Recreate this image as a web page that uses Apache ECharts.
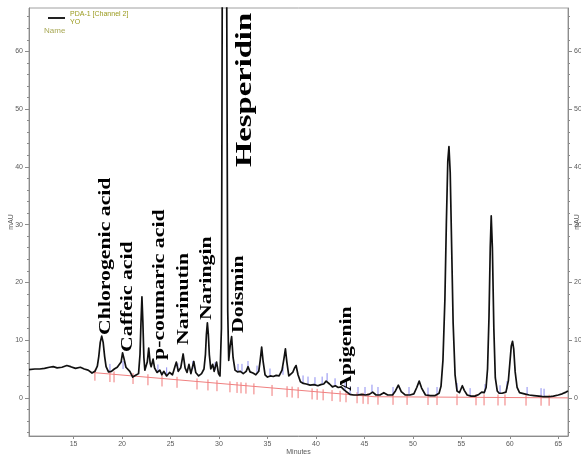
<!DOCTYPE html>
<html><head><meta charset="utf-8">
<script src="https://cdn.jsdelivr.net/npm/echarts@6/dist/echarts.min.js"></script>
<style>html,body{margin:0;padding:0;background:#fff}#c{width:581px;height:457px}</style>
</head><body><div id="c"></div>
<script>
const xTicks = [15,20,25,30,35,40,45,50,55,60,65];
const yTicks = [0,10,20,30,40,50,60];
const yMinorTicks = [-6,-4,-2,2,4,6,8,12,14,16,18,22,24,26,28,32,34,36,38,42,44,46,48,52,54,56,58,62,64,66];

const trace = [
[10.4,4.9],[11.0,5.0],[11.5,5.0],[12.0,5.1],[12.5,5.3],[12.9,5.4],[13.3,5.2],[13.8,5.3],[14.3,5.6],[14.7,5.4],[15.2,5.1],[15.7,5.3],[16.1,5.0],[16.5,4.8],[16.9,4.3],[17.2,4.6],
[17.45,5.5],[17.6,7.2],[17.75,9.6],[17.9,10.7],[18.05,9.6],[18.2,7.2],[18.35,5.4],[18.6,4.5],[18.9,4.6],[19.2,5.0],[19.5,5.3],[19.7,5.0],
[19.9,6.2],[20.05,7.8],[20.2,6.8],[20.4,5.3],[20.6,5.6],[20.8,4.6],[21.1,3.6],[21.4,3.9],
[21.7,4.2],[21.85,7.5],[21.95,13.0],[22.05,17.5],[22.15,13.0],[22.25,7.0],[22.35,4.8],[22.5,5.0],
[22.6,6.2],[22.75,8.6],[22.9,6.0],[23.0,5.4],[23.2,6.7],[23.35,5.2],[23.6,4.4],[23.9,4.8],[24.1,4.0],[24.3,4.6],[24.6,3.8],[24.9,4.4],[25.2,4.0],
[25.45,5.4],[25.6,6.2],[25.8,4.6],[26.05,5.2],[26.3,7.6],[26.5,5.2],[26.7,4.4],[26.9,5.8],[27.1,4.2],[27.4,6.3],[27.6,4.4],[27.9,3.8],[28.2,4.2],[28.45,5.0],
[28.6,7.5],[28.7,11.0],[28.8,13.0],[28.9,11.0],[29.0,7.5],[29.15,5.0],[29.35,5.8],[29.5,4.6],[29.75,6.2],[29.95,4.2],[30.1,3.8],
[30.25,12],[30.33,67],[30.42,200],[30.58,260],[30.72,200],[30.80,67],[30.9,15],[31.0,6.5],
[31.15,9.0],[31.3,10.6],[31.45,7.0],[31.65,4.8],[31.9,4.5],[32.2,4.6],[32.5,4.2],[32.8,4.6],[33.0,5.4],[33.2,4.5],[33.5,4.3],[33.8,4.0],[34.1,4.6],
[34.25,6.5],[34.4,8.8],[34.55,6.3],[34.75,4.0],[35.0,3.6],[35.3,3.8],[35.6,3.7],[35.9,3.9],[36.2,3.8],[36.5,4.8],
[36.7,6.8],[36.85,8.5],[37.0,6.2],[37.2,3.8],[37.4,3.7],[37.6,4.4],
[37.8,5.2],[37.95,5.6],[38.15,4.0],[38.4,2.8],[38.7,2.5],[39.0,2.4],[39.4,2.2],[39.8,2.3],[40.2,2.1],[40.5,2.3],[40.8,2.4],
[41.05,2.9],[41.2,3.2],[41.4,2.4],[41.7,1.9],[42.0,2.1],[42.3,1.8],[42.6,1.9],[42.9,1.4],[43.2,1.0],[43.5,0.6],[43.9,0.5],[44.3,0.5],[44.7,0.6],[45.1,0.5],[45.5,0.6],
[45.85,1.0],[46.2,0.5],[46.6,0.5],[47.0,0.9],[47.4,0.5],[47.9,0.5],[48.2,1.2],[48.5,2.2],[48.8,1.1],[49.2,0.5],[49.7,0.5],[50.1,0.7],[50.4,1.8],[50.65,2.9],[50.9,1.7],[51.3,0.5],[51.8,0.4],[52.3,0.4],[52.7,0.8],
[52.9,2.0],[53.1,6.5],[53.3,17],[53.45,30],[53.6,41],[53.72,43.5],[53.85,39],[54.0,26],[54.15,13],[54.35,4.0],[54.55,1.2],[54.8,0.9],
[54.95,1.5],[55.1,2.1],[55.3,1.3],[55.6,0.5],[56.0,0.3],[56.4,0.3],[56.8,0.6],[57.1,1.0],[57.35,0.9],[57.55,1.8],
[57.7,5.0],[57.85,14],[57.98,26],[58.08,31.5],[58.2,26],[58.35,12],[58.5,3.5],[58.7,1.2],[58.9,0.8],[59.2,0.8],[59.6,1.0],[59.85,3.0],
[60.0,6.0],[60.15,9.0],[60.28,9.8],[60.4,8.5],[60.55,4.5],[60.75,1.8],[61.0,0.9],[61.5,0.7],[62.0,0.5],[62.5,0.4],[63.0,0.3],[63.5,0.2],[64.0,0.2],[64.5,0.3],[65.0,0.5],[65.4,0.7],[65.8,1.0],[66.0,1.2]
];

const baseline = [[16.9,4.4],[46.0,0.2],[66.0,0.0]];

const redTicks = [
[17.2,4.36],[18.75,4.13],[19.17,4.07],[21.13,3.79],[22.67,3.57],[24.12,3.36],[25.67,3.13],[27.73,2.84],[28.86,2.67],[29.79,2.54],
[31.13,2.35],[31.86,2.24],[32.27,2.18],[32.78,2.11],[33.6,1.99],[35.47,1.72],[37.02,1.50],[37.54,1.43],[38.16,1.33],[39.6,1.12],
[40.12,1.05],[40.74,0.96],[41.66,0.83],[42.49,0.71],[43.1,0.62],[44.24,0.45],[44.86,0.36],[45.37,0.29],[46.4,0.2],[47.95,0.18],
[49.4,0.17],[51.56,0.15],[52.49,0.14],[54.55,0.12],[56.51,0.1],[57.34,0.09],[58.78,0.07],[59.5,0.07],[61.67,0.04],[63.22,0.03],[64.05,0.02]
];

const blueTicks = [
[18.75,4.5],[20.1,5.0],[23.7,4.4],[24.6,3.9],[25.75,4.6],[27.3,5.0],[29.6,4.8],[31.96,4.5],[32.37,4.5],[32.99,5.0],[33.92,4.2],
[35.26,3.7],[36.6,4.0],[38.67,2.5],[39.18,2.3],[39.9,2.2],[40.64,2.3],[41.15,2.9],[41.97,2.0],[43.0,1.3],[43.52,0.6],[44.34,0.5],
[45.06,0.5],[45.78,0.9],[46.4,0.5],[47.95,0.5],[49.6,0.5],[51.56,0.4],[52.49,0.5],[54.55,1.2],[55.9,0.3],[57.44,1.0],[58.99,0.8],
[59.71,1.5],[61.78,0.5],[63.22,0.3],[63.53,0.2]
];

const peakNames = ['Chlorogenic acid','Caffeic acid','p-coumaric acid','Narinutin','Naringin','Hesperidin','Doismin','Apigenin'];
const peakTimes = [18.29,20.61,23.91,26.39,28.76,32.68,32.06,43.2];
const peakValues = [10.9,7.96,6.57,9.17,13.5,39.97,11.25,1.2];

const chart = echarts.init(document.getElementById('c'));
const axisGrey = '#8c8c8c';
const fontSans = '"Liberation Sans", Arial, sans-serif';
const labelStyle = {color:'#5a5a5a', fontSize:7, fontFamily:fontSans};

function yAxisMajor(pos, gap){
  return {
    type:'value', position:pos, min:-6.6, max:67.5,
    axisLine:{show:true, lineStyle:{color:axisGrey, width:1}},
    axisTick:{show:true, length:4, customValues:yTicks, lineStyle:{color:axisGrey}},
    axisLabel:Object.assign({show:true, margin:6, customValues:yTicks}, labelStyle),
    splitLine:{show:false},
    name:'mAU', nameLocation:'middle', nameGap:gap, nameRotate:90, nameMoveOverlap:false,
    nameTextStyle:{color:'#5a5a5a', fontSize:7, fontFamily:fontSans}
  };
}
function yAxisMinor(pos){
  return {
    type:'value', position:pos, min:-6.6, max:67.5,
    axisLine:{show:false},
    axisTick:{show:true, length:2, customValues:yMinorTicks, lineStyle:{color:axisGrey}},
    axisLabel:{show:false}, splitLine:{show:false}
  };
}

const option = {
  animation:false,
  backgroundColor:'#fff',
  grid:{left:29, right:13, top:8, bottom:21, containLabel:false, outerBoundsMode:'none',
        show:true, borderColor:'#a0a0a0', borderWidth:1},
  legend:{
    left:43, top:5, itemWidth:17, itemHeight:2, icon:'rect', itemGap:4,
    data:['PDA-1 [Channel 2]'],
    formatter:'PDA-1 [Channel 2]\nYO',
    textStyle:{color:'#9a9a1e', fontSize:7, lineHeight:8, fontFamily:fontSans}
  },
  graphic:[{type:'text', left:44, top:27, style:{text:'Name', fill:'#a8a855', fontSize:8, fontFamily:fontSans}}],
  xAxis:{
    type:'value', min:10.4, max:66,
    axisLine:{show:true, onZero:false, lineStyle:{color:axisGrey}},
    axisTick:{show:true, length:3, customValues:xTicks, lineStyle:{color:axisGrey}},
    axisLabel:Object.assign({margin:5, customValues:xTicks}, labelStyle),
    splitLine:{show:false},
    name:'Minutes', nameLocation:'middle', nameGap:13, nameMoveOverlap:false,
    nameTextStyle:{color:'#5a5a5a', fontSize:7, fontFamily:fontSans}
  },
  yAxis:[yAxisMajor('left',14), yAxisMinor('left'), yAxisMajor('right',6), yAxisMinor('right')],
  series:[
    {type:'line', name:'baseline', data:baseline, yAxisIndex:0, showSymbol:false, silent:true,
     lineStyle:{color:'#f08080', width:1}, itemStyle:{color:'#f08080'}, z:2},
    {type:'custom', name:'red', yAxisIndex:0, data:redTicks, encode:{x:0,y:1}, z:2, clip:false,
     renderItem:function(params, api){
       const p = api.coord([api.value(0), api.value(1)]);
       return {type:'line', shape:{x1:p[0], y1:p[1]-3, x2:p[0], y2:p[1]+8}, style:{stroke:'#f07878', lineWidth:1}};
     }},
    {type:'custom', name:'blue', yAxisIndex:0, data:blueTicks, encode:{x:0,y:1}, z:2, clip:false,
     renderItem:function(params, api){
       const p = api.coord([api.value(0), api.value(1)]);
       return {type:'line', shape:{x1:p[0], y1:p[1]-8, x2:p[0], y2:p[1]}, style:{stroke:'#8c8cf0', lineWidth:1}};
     }},
    {type:'line', name:'PDA-1 [Channel 2]', data:trace, yAxisIndex:0, showSymbol:false, smooth:false,
     lineStyle:{color:'#111', width:1.7, join:'round'}, itemStyle:{color:'#222'}, z:3, clip:true},
    {type:'custom', name:'labels', yAxisIndex:0, data:peakTimes.map((t,i)=>[t, peakValues[i]]), encode:{x:0,y:1}, z:10, clip:false,
     renderItem:function(params, api){
       const p = api.coord([api.value(0), api.value(1)]);
       const i = params.dataIndex;
       const big = peakNames[i] === 'Hesperidin';
       return {type:'text', x:p[0], y:p[1], rotation:Math.PI/2, scaleX: big ? 1.45 : 1.28,
         style:{text:peakNames[i], fontFamily:'"Liberation Serif", "Times New Roman", serif', fontWeight:'bold',
                fontSize: big ? 22.5 : 17, fill:'#000', align:'left', verticalAlign:'middle'}};
     }}
  ]
};
chart.setOption(option);
</script></body></html>
